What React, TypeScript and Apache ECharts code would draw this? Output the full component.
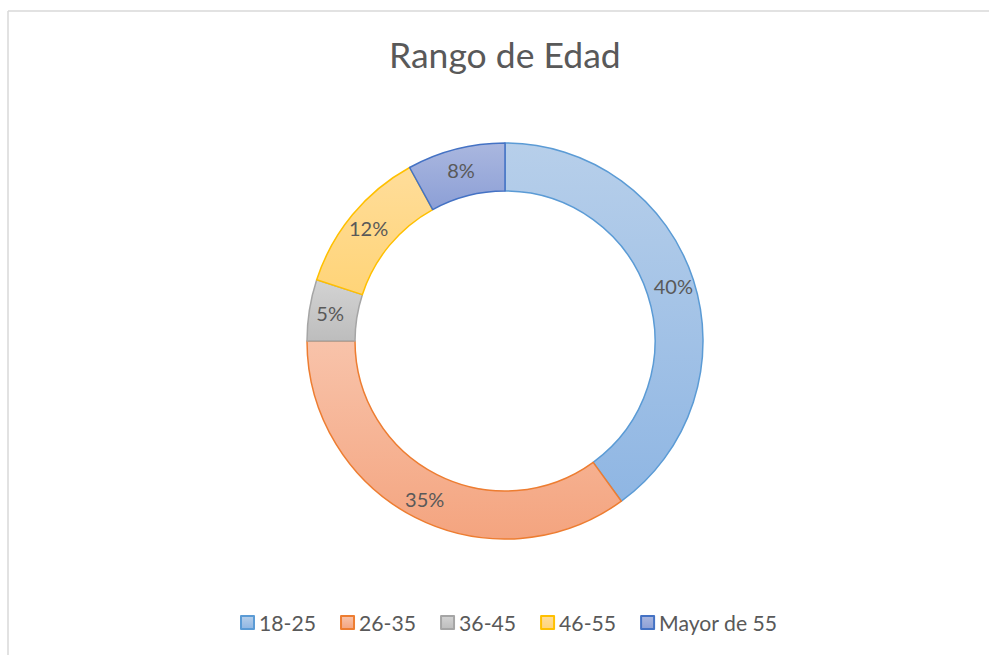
import React, { useEffect, useRef } from "react";
import * as echarts from "echarts";

const categories = ["18-25", "26-35", "36-45", "46-55", "Mayor de 55"];
const values = [40, 35, 5, 12, 8];
const topColors = ["#b7cfea", "#f8c3aa", "#d3d3d3", "#ffdd9a", "#aab7df"];
const bottomColors = ["#8fb6e3", "#f4a47f", "#bdbdbd", "#ffd478", "#8c9fd6"];
const strokeColors = ["#5b9bd5", "#ed7d31", "#a5a5a5", "#ffc000", "#4472c4"];

export default function App() {
  const ref = useRef<HTMLDivElement>(null);
  useEffect(() => {
    if (!ref.current) return;
    const chart = echarts.init(ref.current, null, { renderer: "svg" });
    const font = "Lato";
    chart.setOption({
      animation: false,
      backgroundColor: "#ffffff",
      title: {
        text: "Rango de Edad",
        left: 384,
        top: 31,
        textStyle: { fontFamily: font, fontSize: 35.5, fontWeight: "normal", color: "#595959" },
      },
      legend: {
        bottom: 17,
        left: 235,
        itemWidth: 13,
        itemHeight: 13,
        itemGap: 24,
        icon: "rect",
        textStyle: { fontFamily: font, fontSize: 21.2, color: "#595959" },
        data: categories,
      },
      graphic: [
        { type: "line", shape: { x1: 8, y1: 11, x2: 989, y2: 11 }, style: { stroke: "#d9d9d9", lineWidth: 1.5 } },
        { type: "line", shape: { x1: 8, y1: 11, x2: 8, y2: 655 }, style: { stroke: "#d9d9d9", lineWidth: 1.5 } },
      ],
      series: [
        {
          type: "pie",
          center: [505, 341],
          radius: [150, 198],
          startAngle: 90,
          clockwise: true,
          label: {
            show: true,
            position: "inside",
            formatter: "{c}%",
            fontFamily: font,
            fontSize: 20,
            color: "#595959",
          },
          labelLine: { show: false },
          emphasis: { disabled: true },
          data: categories.map((name, i) => ({
            name,
            value: values[i],
            itemStyle: {
              color: new echarts.graphic.LinearGradient(0, 0, 0, 1, [
                { offset: 0, color: topColors[i] },
                { offset: 1, color: bottomColors[i] },
              ]),
              borderColor: strokeColors[i],
              borderWidth: 1.5,
            },
          })),
        },
      ],
    });
    return () => chart.dispose();
  }, []);
  return <div ref={ref} style={{ position: "absolute", left: 0, top: 0, width: 989, height: 655 }} />;
}
